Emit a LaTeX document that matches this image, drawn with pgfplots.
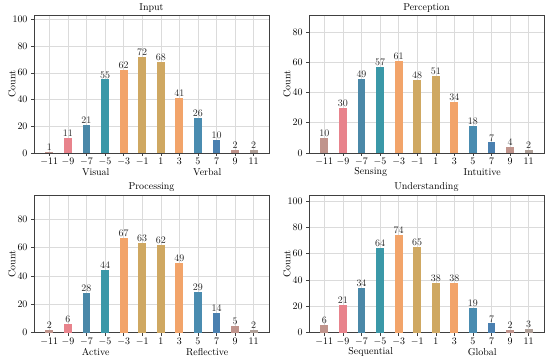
\documentclass[border=0pt]{standalone}
\usepackage{pgfplots}
\pgfplotsset{compat=1.18}
\definecolor{cA}{HTML}{C0948C}
\definecolor{cB}{HTML}{E8838C}
\definecolor{cC}{HTML}{4A88A8}
\definecolor{cD}{HTML}{3A98A8}
\definecolor{cE}{HTML}{F2A46A}
\definecolor{cF}{HTML}{CFA862}
\definecolor{cG}{HTML}{4A8CB0}
\definecolor{cH}{HTML}{4A80B0}
\definecolor{cI}{HTML}{C0948C}
\definecolor{cJ}{HTML}{B0A098}
\tikzset{side/.style={font=\fontsize{10}{12}\selectfont, anchor=center, yshift=-19.5bp}}
\pgfplotsset{
  panel/.style={
    scale only axis, width=235bp, height=137.7bp,
    xmin=-12.65, xmax=12.65, ymin=0,
    xtick={-11,-9,...,11}, ytick={0,20,...,100},
    ybar, bar width=0.85, bar shift=0pt,
    every axis plot/.append style={draw=none},
    grid=major, grid style={color=black!14, line width=0.5pt},
    axis line style={color=black!75, line width=0.6pt},
    tick style={color=black!75, line width=0.5pt},
    tick align=outside, major tick length=3bp,
    xtick pos=bottom, ytick pos=left,
    ylabel=Count,
    ylabel style={font=\fontsize{10}{12}\selectfont, at={(axis description cs:-0.094,0.5)}, anchor=center},
    title style={font=\fontsize{10}{12}\selectfont, yshift=-6.5pt},
    tick label style={font=\fontsize{9.8}{12}\selectfont},
    xticklabel style={yshift=1pt},
    nodes near coords,
    every node near coord/.append style={font=\fontsize{9.8}{12}\selectfont, color=black!85, inner sep=1.2pt},
    clip=false,
  },
}
\begin{document}
\begin{tikzpicture}
\useasboundingbox (0,0) rectangle (550bp,359bp);
% Input
\begin{axis}[panel, at={(34bp,206bp)}, anchor=south west, ymax=103, title=Input]
\addplot[fill=cA, draw=none] coordinates {(-11,1)};
\addplot[fill=cB, draw=none] coordinates {(-9,11)};
\addplot[fill=cC, draw=none] coordinates {(-7,21)};
\addplot[fill=cD, draw=none] coordinates {(-5,55)};
\addplot[fill=cE, draw=none] coordinates {(-3,62)};
\addplot[fill=cF, draw=none] coordinates {(-1,72)};
\addplot[fill=cF, draw=none] coordinates {(1,68)};
\addplot[fill=cE, draw=none] coordinates {(3,41)};
\addplot[fill=cG, draw=none] coordinates {(5,26)};
\addplot[fill=cH, draw=none] coordinates {(7,10)};
\addplot[fill=cI, draw=none] coordinates {(9,2)};
\addplot[fill=cJ, draw=none] coordinates {(11,2)};
\node[side] at (axis cs:-6,0) {Visual};
\node[side] at (axis cs:6,0) {Verbal};
\end{axis}
% Perception
\begin{axis}[panel, at={(309bp,206bp)}, anchor=south west, ymax=91, title=Perception]
\addplot[fill=cA, draw=none] coordinates {(-11,10)};
\addplot[fill=cB, draw=none] coordinates {(-9,30)};
\addplot[fill=cC, draw=none] coordinates {(-7,49)};
\addplot[fill=cD, draw=none] coordinates {(-5,57)};
\addplot[fill=cE, draw=none] coordinates {(-3,61)};
\addplot[fill=cF, draw=none] coordinates {(-1,48)};
\addplot[fill=cF, draw=none] coordinates {(1,51)};
\addplot[fill=cE, draw=none] coordinates {(3,34)};
\addplot[fill=cG, draw=none] coordinates {(5,18)};
\addplot[fill=cH, draw=none] coordinates {(7,7)};
\addplot[fill=cI, draw=none] coordinates {(9,4)};
\addplot[fill=cJ, draw=none] coordinates {(11,2)};
\node[side] at (axis cs:-6,0) {Sensing};
\node[side] at (axis cs:6,0) {Intuitive};
\end{axis}
% Processing
\begin{axis}[panel, at={(34bp,26.3bp)}, anchor=south west, ymax=97, title=Processing]
\addplot[fill=cA, draw=none] coordinates {(-11,2)};
\addplot[fill=cB, draw=none] coordinates {(-9,6)};
\addplot[fill=cC, draw=none] coordinates {(-7,28)};
\addplot[fill=cD, draw=none] coordinates {(-5,44)};
\addplot[fill=cE, draw=none] coordinates {(-3,67)};
\addplot[fill=cF, draw=none] coordinates {(-1,63)};
\addplot[fill=cF, draw=none] coordinates {(1,62)};
\addplot[fill=cE, draw=none] coordinates {(3,49)};
\addplot[fill=cG, draw=none] coordinates {(5,29)};
\addplot[fill=cH, draw=none] coordinates {(7,14)};
\addplot[fill=cI, draw=none] coordinates {(9,5)};
\addplot[fill=cJ, draw=none] coordinates {(11,2)};
\node[side] at (axis cs:-6,0) {Active};
\node[side] at (axis cs:6,0) {Reflective};
\end{axis}
% Understanding
\begin{axis}[panel, at={(309bp,26.3bp)}, anchor=south west, ymax=104.5, title=Understanding]
\addplot[fill=cA, draw=none] coordinates {(-11,6)};
\addplot[fill=cB, draw=none] coordinates {(-9,21)};
\addplot[fill=cC, draw=none] coordinates {(-7,34)};
\addplot[fill=cD, draw=none] coordinates {(-5,64)};
\addplot[fill=cE, draw=none] coordinates {(-3,74)};
\addplot[fill=cF, draw=none] coordinates {(-1,65)};
\addplot[fill=cF, draw=none] coordinates {(1,38)};
\addplot[fill=cE, draw=none] coordinates {(3,38)};
\addplot[fill=cG, draw=none] coordinates {(5,19)};
\addplot[fill=cH, draw=none] coordinates {(7,7)};
\addplot[fill=cI, draw=none] coordinates {(9,2)};
\addplot[fill=cJ, draw=none] coordinates {(11,3)};
\node[side] at (axis cs:-6,0) {Sequential};
\node[side] at (axis cs:6,0) {Global};
\end{axis}
\end{tikzpicture}
\end{document}
